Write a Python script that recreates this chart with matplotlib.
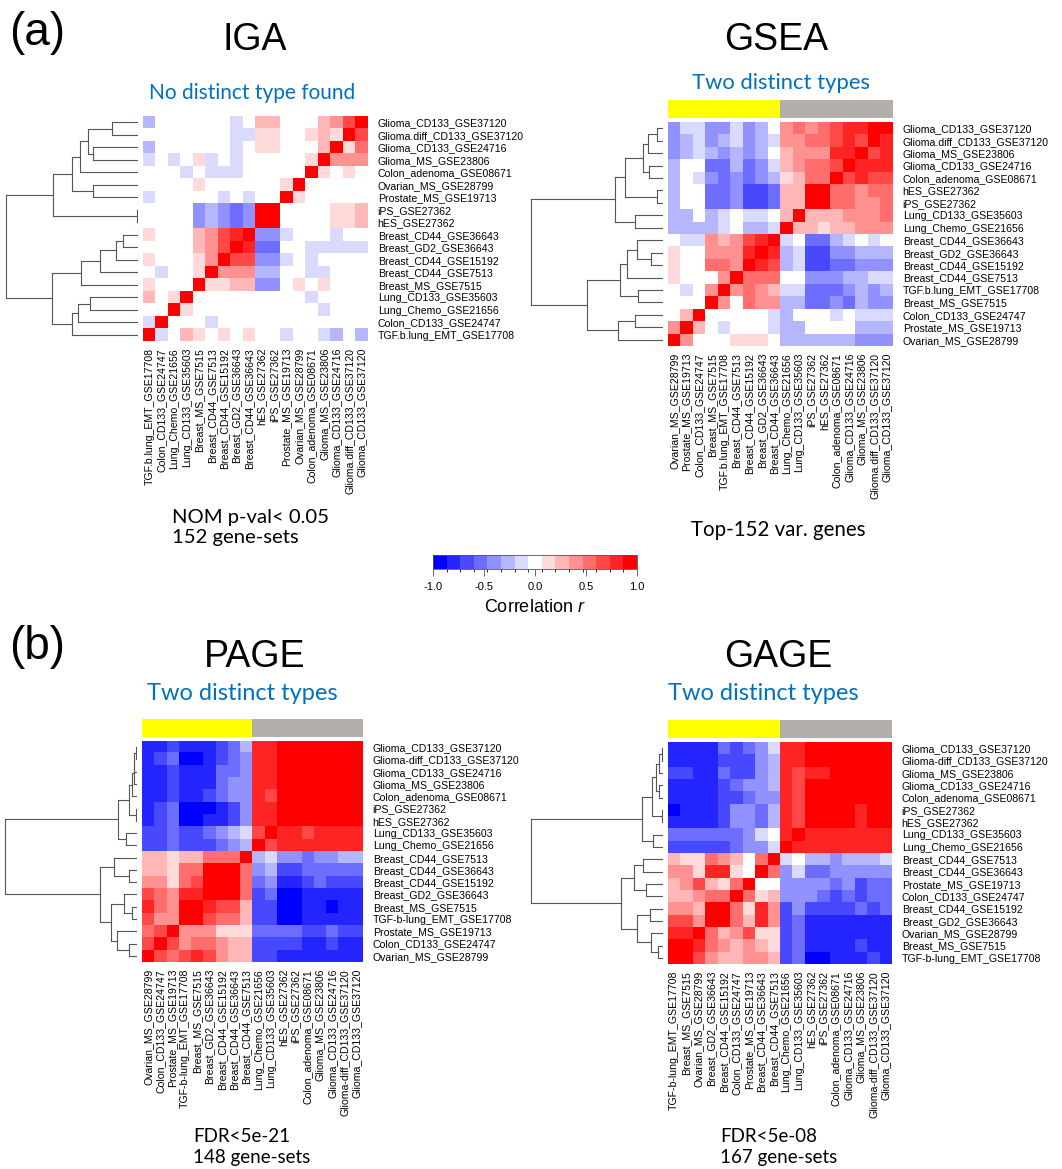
import numpy as np
import matplotlib
matplotlib.use("Agg")
import matplotlib.pyplot as plt
from matplotlib.colors import ListedColormap, BoundaryNorm
from matplotlib.cm import ScalarMappable

W, H = 1062, 1169
plt.rcParams['font.family'] = ['Liberation Sans', 'DejaVu Sans']
plt.rcParams['mathtext.fontset'] = 'custom'
plt.rcParams['mathtext.it'] = 'Liberation Sans:italic'
plt.rcParams['mathtext.rm'] = 'Liberation Sans'

# ---------------- data ----------------
# correlation shown as colour level -7..7 (15 colour bins from -1 to 1)
# rows top->bottom; columns left->right are the rows in reverse order

iga_rows = ["Glioma_CD133_GSE37120", "Glioma.diff_CD133_GSE37120", "Glioma_CD133_GSE24716",
            "Glioma_MS_GSE23806", "Colon_adenoma_GSE08671", "Ovarian_MS_GSE28799",
            "Prostate_MS_GSE19713", "iPS_GSE27362", "hES_GSE27362", "Breast_CD44_GSE36643",
            "Breast_GD2_GSE36643", "Breast_CD44_GSE15192", "Breast_CD44_GSE7513",
            "Breast_MS_GSE7515", "Lung_CD133_GSE35603", "Lung_Chemo_GSE21656",
            "Colon_CD133_GSE24747", "TGF.b.lung_EMT_GSE17708"]
iga_levels = [
    [-2, 0, 0, 0, 0, 0, 0, -1, 0, 2, 2, 0, 0, 0, 2, 3, 5, 7],
    [0, 0, 0, 0, 0, 0, 0, -1, -1, 1, 1, 0, 0, 1, 2, 1, 7, 5],
    [-2, 0, 0, 0, 0, 0, 0, -1, 0, 1, 1, 0, 0, 0, 2, 7, 1, 4],
    [-1, 0, -1, 0, 1, -1, 0, -1, 0, 0, 0, 0, 0, 1, 7, 3, 3, 3],
    [0, 0, 0, -1, 0, -1, -1, -1, 0, 0, 0, 0, 0, 7, 1, 0, 1, 0],
    [0, 0, 0, 0, 1, 0, 0, 0, 0, 0, 0, 1, 7, 0, 0, 0, 0, 0],
    [-1, 0, 0, 0, 0, 0, -1, 0, -1, 0, 0, 7, 1, 0, 0, 0, 0, 0],
    [0, 0, 0, 0, -3, -2, -3, -4, -3, 7, 7, 0, 0, 0, 0, 1, 1, 2],
    [0, 0, 0, 0, -3, -2, -3, -4, -3, 7, 7, 0, 0, 0, 0, 1, 1, 2],
    [1, 0, 0, 0, 2, 3, 5, 6, 7, -3, -3, -1, 0, 0, 0, -1, 0, 0],
    [0, 0, 0, 0, 2, 3, 5, 7, 6, -4, -4, 0, 0, -1, -1, -1, -1, -1],
    [1, 0, 0, 0, 1, 3, 7, 5, 5, -3, -3, -1, 0, -1, 0, 0, 0, 0],
    [0, -1, 0, 0, 1, 7, 3, 3, 3, -2, -2, 0, 0, -1, -1, 0, 0, 0],
    [1, 0, 0, 0, 7, 1, 1, 2, 2, -3, -3, 0, 1, 0, 1, 0, 0, 0],
    [2, 0, 1, 7, 0, 0, 0, 0, 0, 0, 0, 0, 0, -1, 0, 0, 0, 0],
    [0, 0, 7, 1, 0, 0, 0, 0, 0, 0, 0, 0, 0, 0, -1, 0, 0, 0],
    [-1, 7, 0, 0, 0, -1, 0, 0, 0, 0, 0, 0, 0, 0, 0, 0, 0, 0],
    [7, -1, 0, 2, 1, 0, 1, 0, 1, 0, 0, -1, 0, 0, -1, -2, 0, -2],
]
# merges (child a, child b, height); clusters numbered 18, 19, ... in order
iga_tree = [(0, 1, 0.20), (2, 3, 0.34), (18, 19, 0.375), (20, 4, 0.44), (5, 6, 0.34),
            (21, 22, 0.50), (7, 8, 0.01), (23, 24, 0.64), (9, 10, 0.11), (26, 11, 0.17),
            (27, 12, 0.29), (28, 13, 0.43), (14, 15, 0.36), (30, 16, 0.45), (31, 17, 0.50),
            (29, 32, 0.65), (25, 33, 1.0)]

gsea_rows = ["Glioma_CD133_GSE37120", "Glioma.diff_CD133_GSE37120", "Glioma_MS_GSE23806",
             "Glioma_CD133_GSE24716", "Colon_adenoma_GSE08671", "hES_GSE27362", "iPS_GSE27362",
             "Lung_CD133_GSE35603", "Lung_Chemo_GSE21656", "Breast_CD44_GSE36643",
             "Breast_GD2_GSE36643", "Breast_CD44_GSE15192", "Breast_CD44_GSE7513",
             "TGF.b.lung_EMT_GSE17708", "Breast_MS_GSE7515", "Colon_CD133_GSE24747",
             "Prostate_MS_GSE19713", "Ovarian_MS_GSE28799"]
gsea_levels = [
    [-3, -1, -1, -3, -3, -1, -3, -2, 0, 3, 4, 3, 4, 5, 6, 6, 7, 7],
    [-3, -2, -1, -3, -2, -1, -3, -2, -1, 3, 3, 4, 4, 5, 6, 5, 7, 6],
    [-3, -2, -1, -2, -3, -2, -3, -2, 0, 2, 3, 3, 3, 6, 6, 7, 5, 6],
    [-2, 0, 0, -4, -4, -2, -4, -3, -1, 2, 3, 4, 4, 5, 7, 6, 6, 6],
    [-2, 0, -1, -3, -4, -3, -4, -3, -2, 1, 2, 4, 4, 7, 5, 6, 5, 5],
    [-2, 0, 0, -4, -4, -3, -5, -5, -4, 2, 2, 7, 7, 4, 4, 3, 4, 4],
    [-2, 0, 0, -4, -4, -3, -5, -5, -4, 2, 2, 7, 7, 4, 4, 3, 3, 4],
    [-2, -2, 0, -2, -1, 0, -1, -1, 0, 2, 7, 2, 2, 2, 3, 3, 3, 4],
    [-2, -2, -2, -2, -1, 0, -2, -2, -1, 7, 2, 2, 1, 2, 2, 3, 3, 3],
    [0, -1, -1, 3, 2, 3, 5, 6, 7, -1, 0, -4, -4, -2, -1, 0, -1, 0],
    [1, 0, 0, 3, 3, 3, 6, 7, 6, -2, -1, -5, -5, -3, -3, -2, -2, -2],
    [1, 0, 0, 4, 4, 3, 7, 6, 5, -2, -1, -5, -5, -4, -4, -3, -3, -3],
    [1, 0, 0, 0, 3, 7, 4, 4, 4, 0, 0, -3, -3, -3, -2, -2, -1, -1],
    [0, -1, 0, 3, 7, 3, 4, 3, 2, -1, -1, -4, -4, -4, -3, -2, -3, -2],
    [0, 0, 0, 7, 3, 0, 4, 3, 3, -2, -2, -4, -4, -3, -4, -2, -3, -3],
    [0, 2, 7, 0, 0, 0, 0, 0, -1, -2, 0, 0, 0, -1, 0, -1, -1, -1],
    [3, 7, 2, 0, -1, 0, 0, 0, -1, -2, -2, 0, 0, 0, 0, -2, -2, -2],
    [7, 3, 0, 0, 0, 1, 1, 1, 0, -2, -2, -2, -2, -2, -2, -3, -3, -3],
]
gsea_tree = [(0, 1, 0.045), (18, 2, 0.11), (3, 4, 0.105), (19, 20, 0.15), (5, 6, 0.045),
             (21, 22, 0.29), (7, 8, 0.21), (23, 24, 0.36), (10, 11, 0.09), (9, 26, 0.20),
             (27, 12, 0.275), (13, 14, 0.19), (28, 29, 0.325), (15, 16, 0.21), (31, 17, 0.34),
             (30, 32, 0.575), (25, 33, 1.0)]

page_rows = ["Glioma_CD133_GSE37120", "Glioma-diff_CD133_GSE37120", "Glioma_CD133_GSE24716",
             "Glioma_MS_GSE23806", "Colon_adenoma_GSE08671", "iPS_GSE27362", "hES_GSE27362",
             "Lung_CD133_GSE35603", "Lung_Chemo_GSE21656", "Breast_CD44_GSE7513",
             "Breast_CD44_GSE36643", "Breast_CD44_GSE15192", "Breast_GD2_GSE36643",
             "Breast_MS_GSE7515", "TGF-b-lung_EMT_GSE17708", "Prostate_MS_GSE19713",
             "Colon_CD133_GSE24747", "Ovarian_MS_GSE28799"]
page_levels = [
    [-6, -6, -5, -6, -6, -6, -5, -4, -2, 6, 6, 7, 7, 7, 7, 7, 7, 7],
    [-6, -5, -4, -7, -7, -6, -5, -4, -3, 6, 6, 7, 7, 7, 7, 7, 7, 7],
    [-6, -6, -5, -6, -6, -6, -4, -4, -3, 6, 6, 7, 7, 7, 7, 7, 7, 7],
    [-6, -6, -5, -6, -6, -6, -4, -3, -3, 6, 6, 7, 7, 7, 7, 7, 7, 7],
    [-6, -6, -5, -6, -6, -5, -4, -3, -3, 6, 5, 7, 7, 7, 7, 7, 7, 7],
    [-6, -5, -4, -7, -7, -7, -6, -5, -3, 6, 6, 7, 7, 7, 7, 7, 7, 7],
    [-6, -5, -4, -7, -7, -6, -6, -5, -3, 6, 6, 7, 7, 7, 7, 7, 7, 7],
    [-5, -5, -4, -5, -5, -4, -3, -2, -1, 5, 7, 6, 6, 5, 6, 6, 6, 6],
    [-5, -5, -4, -5, -5, -5, -4, -3, -2, 7, 5, 6, 6, 6, 6, 6, 6, 6],
    [2, 2, 1, 2, 2, 4, 4, 4, 7, -2, -1, -3, -3, -4, -3, -3, -2, -2],
    [2, 2, 1, 4, 4, 7, 7, 7, 4, -3, -2, -5, -5, -4, -4, -4, -4, -4],
    [3, 3, 1, 4, 5, 7, 7, 7, 4, -4, -3, -6, -6, -5, -4, -5, -5, -5],
    [5, 4, 3, 6, 6, 7, 7, 7, 4, -5, -4, -7, -7, -6, -6, -6, -6, -6],
    [6, 4, 3, 7, 7, 6, 5, 5, 2, -5, -5, -7, -7, -6, -6, -7, -6, -6],
    [5, 3, 3, 7, 7, 5, 4, 4, 2, -5, -5, -7, -7, -6, -6, -6, -6, -6],
    [4, 5, 7, 3, 3, 3, 1, 1, 1, -4, -4, -4, -4, -5, -5, -4, -5, -5],
    [5, 7, 5, 3, 4, 4, 3, 2, 2, -5, -5, -5, -5, -6, -6, -5, -6, -6],
    [7, 5, 4, 5, 6, 5, 3, 2, 2, -5, -5, -6, -6, -6, -6, -6, -6, -6],
]
page_tree = [(0, 1, 0.01), (18, 2, 0.02), (19, 3, 0.025), (20, 4, 0.04), (5, 6, 0.005),
             (21, 22, 0.06), (7, 8, 0.08), (23, 24, 0.14), (10, 11, 0.063), (9, 26, 0.176),
             (13, 14, 0.038), (12, 28, 0.095), (16, 17, 0.063), (15, 30, 0.15),
             (29, 31, 0.20), (27, 32, 0.276), (25, 33, 1.0)]

gage_rows = ["Glioma_CD133_GSE37120", "Glioma-diff_CD133_GSE37120", "Glioma_MS_GSE23806",
             "Glioma_CD133_GSE24716", "Colon_adenoma_GSE08671", "iPS_GSE27362", "hES_GSE27362",
             "Lung_CD133_GSE35603", "Lung_Chemo_GSE21656", "Breast_CD44_GSE7513",
             "Breast_CD44_GSE36643", "Prostate_MS_GSE19713", "Colon_CD133_GSE24747",
             "Breast_CD44_GSE15192", "Breast_GD2_GSE36643", "Ovarian_MS_GSE28799",
             "Breast_MS_GSE7515", "TGF-b-lung_EMT_GSE17708"]
gage_levels = [
    [-6, -6, -6, -6, -4, -5, -4, -3, -1, 6, 6, 7, 7, 7, 7, 7, 7, 7],
    [-6, -6, -6, -6, -5, -5, -5, -3, -2, 6, 6, 7, 7, 7, 7, 7, 7, 7],
    [-5, -5, -6, -6, -4, -5, -5, -3, -2, 6, 5, 6, 6, 7, 7, 7, 7, 7],
    [-6, -6, -6, -6, -5, -4, -3, -3, -2, 6, 5, 7, 7, 7, 7, 7, 7, 7],
    [-6, -6, -6, -6, -5, -5, -4, -3, -3, 6, 5, 7, 7, 7, 7, 7, 7, 7],
    [-7, -6, -6, -6, -5, -3, -3, -4, -2, 6, 5, 7, 7, 7, 7, 6, 7, 7],
    [-6, -6, -6, -6, -5, -3, -3, -4, -2, 6, 5, 7, 7, 7, 7, 6, 7, 7],
    [-4, -4, -4, -4, -4, -4, -3, -1, 0, 6, 7, 6, 6, 6, 6, 6, 6, 6],
    [-5, -5, -5, -5, -5, -4, -3, -3, -1, 7, 6, 6, 6, 6, 6, 6, 6, 6],
    [2, 1, 1, 4, 3, 2, 0, 4, 7, -1, 0, -2, -2, -3, -2, -2, -2, -1],
    [3, 3, 1, 6, 6, 1, 0, 7, 4, -3, -1, -4, -4, -3, -3, -3, -3, -3],
    [2, 3, 5, 2, 1, 4, 7, 0, 0, -3, -3, -3, -3, -4, -3, -5, -4, -4],
    [2, 2, 3, 4, 4, 7, 4, 1, 2, -3, -3, -3, -4, -5, -4, -5, -4, -4],
    [3, 3, 2, 7, 7, 4, 1, 6, 3, -5, -3, -5, -5, -5, -5, -4, -5, -4],
    [5, 5, 3, 7, 7, 4, 2, 6, 3, -5, -4, -6, -6, -6, -6, -6, -6, -6],
    [6, 6, 7, 4, 2, 3, 5, 1, 1, -5, -4, -6, -6, -6, -6, -6, -6, -6],
    [7, 7, 6, 4, 3, 2, 3, 2, 1, -5, -4, -6, -6, -6, -6, -5, -6, -6],
    [7, 7, 5, 3, 2, 2, 3, 3, 2, -5, -4, -7, -7, -6, -6, -6, -5, -6],
]
gage_tree = [(0, 1, 0.01), (18, 2, 0.03), (3, 4, 0.03), (19, 20, 0.05), (5, 6, 0.01),
             (21, 22, 0.08), (7, 8, 0.075), (23, 24, 0.155), (9, 10, 0.15), (11, 12, 0.13),
             (26, 27, 0.22), (13, 14, 0.10), (16, 17, 0.04), (15, 30, 0.09), (29, 31, 0.20),
             (28, 32, 0.32), (25, 33, 1.0)]

# ---------------- style ----------------
n_bins = 15
cols15 = []
for i in range(n_bins):
    f = (i - 7) / 7.0
    if f < 0:
        cols15.append((1 + f, 1 + f, 1.0))
    else:
        cols15.append((1.0, 1 - f, 1 - f))
cmap = ListedColormap(cols15)
norm = BoundaryNorm(np.linspace(-1, 1, n_bins + 1), n_bins)
annot_cmap = ListedColormap(['#FFFF00', '#B3AFAB'])
blue_txt = '#0070C0'
lab_fs = 7.6

fig = plt.figure(figsize=(W / 100, H / 100), dpi=100)


def rect(x0, y0, x1, y1):
    return [x0 / W, 1 - y1 / H, (x1 - x0) / W, (y1 - y0) / H]


def draw_tree(ax, merges, n):
    pos = {i: float(i) for i in range(n)}
    hgt = {i: 0.0 for i in range(n)}
    for k, (a, b, h) in enumerate(merges):
        for c in (a, b):
            ax.plot([hgt[c], h], [pos[c], pos[c]], color='#555555', lw=0.8)
        ax.plot([h, h], [pos[a], pos[b]], color='#555555', lw=0.8)
        pos[n + k] = (pos[a] + pos[b]) / 2
        hgt[n + k] = h
    ax.set_xlim(1.005, 0)
    ax.set_ylim(n - 0.5, -0.5)
    ax.axis('off')


def panel(rows, levels, tree, hx0, hx1, hy0, hy1, dx0, annot=False):
    n = len(rows)
    axh = fig.add_axes(rect(hx0, hy0, hx1, hy1))
    r = np.array(levels) * 2.0 / n_bins
    axh.imshow(r, cmap=cmap, norm=norm, aspect='auto', interpolation='nearest')
    axh.set_yticks(range(n))
    axh.set_yticklabels(rows, fontsize=lab_fs)
    axh.yaxis.tick_right()
    axh.set_xticks(range(n))
    axh.set_xticklabels(rows[::-1], fontsize=lab_fs, rotation=90)
    axh.tick_params(length=0, pad=5)
    axh.tick_params(axis='y', pad=7)
    for s in axh.spines.values():
        s.set_visible(False)
    axd = fig.add_axes(rect(dx0, hy0, hx0 - 5, hy1))
    draw_tree(axd, tree, n)
    if annot:
        axa = fig.add_axes(rect(hx0, hy0 - 22, hx1, hy0 - 4))
        half = n // 2
        axa.imshow([[0] * half + [1] * (n - half)], cmap=annot_cmap, aspect='auto',
                   interpolation='nearest')
        axa.axis('off')


panel(iga_rows, iga_levels, iga_tree, 143, 368, 116, 341, 5)
panel(gsea_rows, gsea_levels, gsea_tree, 668, 893, 122, 346, 530, annot=True)
panel(page_rows, page_levels, page_tree, 142, 363, 741, 962, 4, annot=True)
panel(gage_rows, gage_levels, gage_tree, 668, 892, 742, 964, 530, annot=True)


def ftext(x, y, s, **kw):
    fig.text(x / W, 1 - y / H, s, **kw)


ftext(9, 33, '(a)', fontsize=33, ha='left', va='center')
ftext(9, 647, '(b)', fontsize=33, ha='left', va='center')
ftext(255, 40, 'IGA', fontsize=27, ha='center', va='center')
ftext(776, 40, 'GSEA', fontsize=27, ha='center', va='center')
ftext(255, 657, 'PAGE', fontsize=27, ha='center', va='center')
ftext(778, 657, 'GAGE', fontsize=27, ha='center', va='center')

lato = ['Lato', 'DejaVu Sans']
ftext(252, 93, 'No distinct type found', fontsize=15, ha='center', va='center',
      color=blue_txt, family=lato)
ftext(781, 83, 'Two distinct types', fontsize=15.8, ha='center', va='center',
      color=blue_txt, family=lato)
ftext(242, 693, 'Two distinct types', fontsize=17, ha='center', va='center',
      color=blue_txt, family=lato)
ftext(763, 693, 'Two distinct types', fontsize=17, ha='center', va='center',
      color=blue_txt, family=lato)

ftext(172, 517, 'NOM p-val< 0.05', fontsize=14.6, ha='left', va='center', family=lato)
ftext(172, 538, '152 gene-sets', fontsize=14.6, ha='left', va='center', family=lato)
ftext(778, 530, 'Top-152 var. genes', fontsize=14.8, ha='center', va='center', family=lato)
note = dict(fontsize=13.5, ha='left', va='center', family=lato)
ftext(193, 1137, 'FDR<5e-21', **note)
ftext(193, 1158, '148 gene-sets', **note)
ftext(720, 1137, 'FDR<5e-08', **note)
ftext(720, 1158, '167 gene-sets', **note)

# colour key
cax = fig.add_axes(rect(433, 555, 637, 569))
cb = fig.colorbar(ScalarMappable(norm=norm, cmap=cmap), cax=cax, orientation='horizontal',
                  ticks=[-1, -0.5, 0, 0.5, 1])
cb.ax.set_xticklabels(['-1.0', '-0.5', '0.0', '0.5', '1.0'], fontsize=8)
cb.ax.tick_params(length=5, width=0.6, color='#555555', pad=4)
cb.outline.set_linewidth(0.6)
cb.outline.set_edgecolor('#555555')
ftext(535, 608, 'Correlation $r$', fontsize=13, ha='center', va='center')

fig.savefig('out.png', dpi=100)
